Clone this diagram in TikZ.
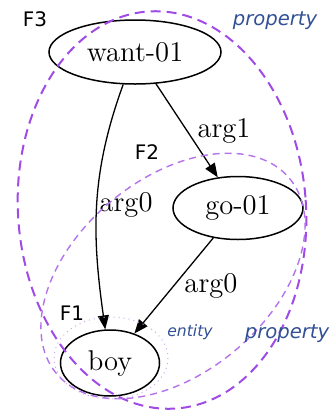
\documentclass[tikz,border=0pt]{standalone}
\usepackage{fontspec}
\newfontfamily\labfont{DejaVu Sans}
\usetikzlibrary{arrows.meta,shapes.geometric}
\definecolor{fthree}{RGB}{160,75,230}
\definecolor{ftwo}{RGB}{180,115,235}
\definecolor{fone}{RGB}{205,165,240}
\definecolor{roleblue}{RGB}{50,80,150}
\tikzset{concept/.style={ellipse, draw, line width=0.75pt, inner sep=0pt, font=\fontsize{14.3}{17}\selectfont}}
\tikzset{arr/.style={draw, line width=0.65pt, -{Triangle[length=7pt,width=5.5pt]}}}
\tikzset{elabel/.style={font=\fontsize{14.3}{17}\selectfont, inner sep=1pt}}
\tikzset{fname/.style={font=\labfont\fontsize{10}{12}\selectfont}}
\tikzset{role/.style={font=\labfont\itshape\fontsize{9.8}{12}\selectfont, text=roleblue}}
\tikzset{frame/.style={fthree, line width=1pt, dash pattern=on 5pt off 3pt}}

\begin{document}
\begin{tikzpicture}[x=0.5pt, y=-0.5pt]
			\useasboundingbox (0,0) rectangle (330,414);
			\node[concept, minimum width=86pt, minimum height=32pt] (want) at (135,52){want-01};
			\node[concept, minimum width=65pt, minimum height=31.5pt] (go) at (238,208){go-01};
			\node[concept, minimum width=49.5pt, minimum height=33pt] (boy) at (110,363){boy};
			
			\draw[arr] (want) to[out=-110, in=98] node[elabel, right]{arg0} (boy);
			\draw[arr] (want) -- node[elabel, right=4pt]{arg1} (go);
			\draw[arr] (go) -- node[elabel, right=4pt]{arg0} (boy);
			
			% frames
			\draw[frame, rotate around={4:(162,210)}] (162,210) ellipse [x radius=144, y radius=199];
			\draw[frame, ftwo, line width=0.7pt, dash pattern=on 3.5pt off 2.5pt, rotate around={40:(173,276)}] (173,276) ellipse [x radius=152, y radius=97];
			\draw[fone, line width=0.5pt, dotted] (111,358) ellipse [x radius=57, y radius=41];
			
			\node[fname] (f3) at (35,19){F3};
			\node[fname] (f2) at (147,152){F2};
			\node[fname] (f1) at (72,313){F1};
			\node[role] (prop3) at (275,21){property};
			\node[role] (prop2) at (287,334){property};
			\node[role, font=\labfont\itshape\fontsize{7.8}{10}\selectfont] (ent) at (190,332){entity};
		\end{tikzpicture}
\end{document}
